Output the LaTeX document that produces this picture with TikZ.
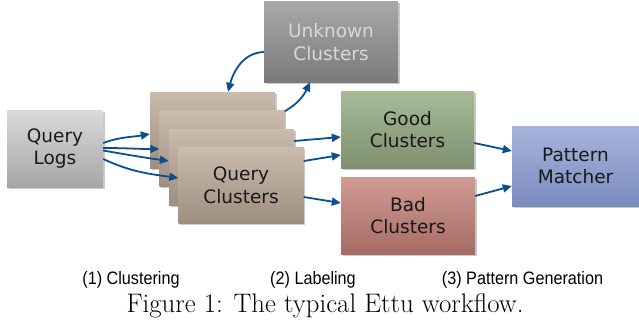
\documentclass[tikz,border=0pt]{standalone}
\usepackage{fontspec}
\newfontfamily\boxfont{DejaVu Sans}
\newfontfamily\labfont{Liberation Sans}
\usetikzlibrary{arrows.meta,shadows}
\definecolor{arrowblue}{HTML}{0B4F91}
\definecolor{qltop}{HTML}{DADADA}\definecolor{qlbot}{HTML}{A6A6A6}
\definecolor{cltop}{HTML}{CABBAD}\definecolor{clbot}{HTML}{9E8E7F}
\definecolor{unktop}{HTML}{A8A8A8}\definecolor{unkbot}{HTML}{7A7A7A}
\definecolor{unktext}{HTML}{D8D8D8}
\definecolor{goodtop}{HTML}{A7BB99}\definecolor{goodbot}{HTML}{7E906D}
\definecolor{badtop}{HTML}{D29B92}\definecolor{badbot}{HTML}{A46C65}
\definecolor{pmtop}{HTML}{A7B4DB}\definecolor{pmbot}{HTML}{7A8BBF}
\tikzset{
  box/.style={rectangle, inner sep=0pt, align=center, text=black!90,
    font=\boxfont\fontsize{18.5}{22.5}\selectfont,
    drop shadow={shadow xshift=1.5pt, shadow yshift=-1.5pt, opacity=0.35, fill=black!60}},
  card/.style={box, minimum width=125pt, minimum height=76pt, top color=cltop, bottom color=clbot},
  flow/.style={draw=arrowblue, line width=1.8pt, -{Triangle[length=9pt,width=8pt]}},
  steplabel/.style={font=\labfont\fontsize{18}{22}\selectfont, anchor=base, xscale=0.9, transform shape, inner sep=0pt}
}
\begin{document}
\begin{tikzpicture}[x=1pt,y=1pt]
\useasboundingbox (0,0) rectangle (639,322);
% nodes
\node[box, minimum width=96pt, minimum height=77pt, top color=qltop, bottom color=qlbot] (ql) at (55,173.5) {Query\\Logs};
\node[box, minimum width=134pt, minimum height=80pt, top color=unktop, bottom color=unkbot, text=unktext] (unk) at (331,280) {Unknown\\Clusters};
\node[card] (c1) at (212.5,192) {};
\node[card] (c2) at (222,173.5) {};
\node[card] (c3) at (231.5,155) {};
\node[card] (c4) at (241,136.5) {Query\\Clusters};
\node[box, minimum width=133pt, minimum height=77pt, top color=goodtop, bottom color=goodbot] (good) at (407.5,192.5) {Good\\Clusters};
\node[box, minimum width=134pt, minimum height=77pt, top color=badtop, bottom color=badbot] (bad) at (408,106.5) {Bad\\Clusters};
\node[box, minimum width=127pt, minimum height=80pt, top color=pmtop, bottom color=pmbot] (pm) at (575.5,156) {Pattern\\Matcher};
% connectors from query logs
\draw[flow] ([yshift=5.5pt]ql.east) to[out=20,in=190] ([yshift=-4pt]c1.west);
\draw[flow] ([yshift=0.5pt]ql.east) to[out=0,in=180] ([yshift=-0.5pt]c2.west);
\draw[flow] ([yshift=-2pt]ql.east) to[out=-10,in=172] ([yshift=6pt]c3.west);
\draw[flow] ([yshift=-10.5pt]ql.east) to[out=-25,in=172] ([yshift=7.5pt]c4.west);
% unknown
\draw[flow] ([yshift=-10pt]unk.west) to[out=182,in=75] ([xshift=15.5pt]c1.north);
\draw[flow] ([yshift=-1pt]c2.north east) to[out=30,in=-115] ([xshift=-21pt]unk.south);
% labeling
\draw[flow] ([yshift=26pt]c3.east) -- ([yshift=-7.5pt]good.west);
\draw[flow] ([yshift=24.5pt]c4.east) -- ([yshift=-25.5pt]good.west);
\draw[flow] ([yshift=-11.5pt]c4.east) -- ([yshift=12.5pt]bad.west);
% pattern
\draw[flow] ([yshift=-13.5pt]good.east) -- ([yshift=15pt]pm.west);
\draw[flow] ([yshift=19.5pt]bad.east) -- ([yshift=-20pt]pm.west);
% labels
\node[steplabel] (l1) at (131,38) {(1) Clustering};
\node[steplabel] (l2) at (313,38) {(2) Labeling};
\node[steplabel] (l3) at (522.5,38) {(3) Pattern Generation};
\node[anchor=base, inner sep=0pt, font=\fontsize{26.8}{30}\selectfont] (cap) at (325,10) {Figure 1: The typical Ettu workflow.};
\end{tikzpicture}
\end{document}
